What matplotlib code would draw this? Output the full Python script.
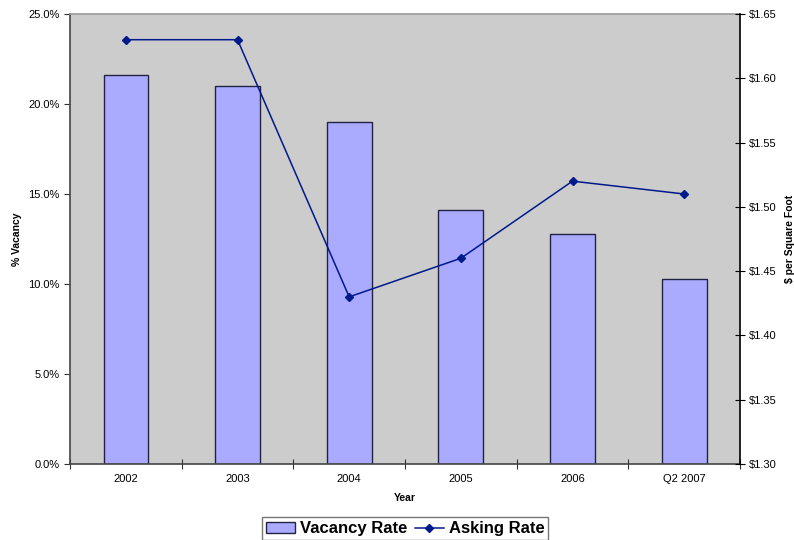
import matplotlib.pyplot as plt
import numpy as np
from matplotlib.ticker import FuncFormatter, FixedLocator

plt.rcParams['font.family'] = ['Liberation Sans', 'DejaVu Sans']

# vacancy (%) and asking rent ($/sq ft) by period
years = ['2002', '2003', '2004', '2005', '2006', 'Q2 2007']
vacancy = [21.6, 21.0, 19.0, 14.1, 12.8, 10.3]
asking = [1.63, 1.63, 1.43, 1.46, 1.52, 1.51]

fig = plt.figure(figsize=(7.94, 5.40), dpi=100)
ax = fig.add_axes([70/794, 76/540, 670/794, 450/540])
ax.set_facecolor('#cccccc')

x = np.arange(len(years))
bars = ax.bar(x, vacancy, width=0.4, color='#aaaaff', edgecolor='#222244', linewidth=1.0, zorder=2)
ax.set_xlim(-0.5, len(years) - 0.5)
ax.set_ylim(0, 25)
ax.set_yticks(np.arange(0, 25.1, 5))
ax.yaxis.set_major_formatter(FuncFormatter(lambda v, p: f'{v:.1f}%'))

# ticks on category boundaries, labels centred
ax.xaxis.set_major_locator(FixedLocator(np.arange(-0.5, len(years), 1)))
ax.xaxis.set_minor_locator(FixedLocator(x))
ax.xaxis.set_major_formatter(FuncFormatter(lambda v, p: ''))
ax.set_xticklabels(years, minor=True)
ax.tick_params(axis='x', which='minor', length=0, pad=7, labelsize=8)
ax.tick_params(axis='x', which='major', direction='inout', length=7, color='#333333')
ax.tick_params(axis='y', direction='out', length=4, labelsize=8, color='#333333')

ax.spines['top'].set_color('#999999')
ax.spines['right'].set_visible(False)
ax.spines['left'].set_color('#444444')
ax.spines['bottom'].set_color('#444444')
for s in ax.spines.values():
    s.set_linewidth(1.2)

ax2 = ax.twinx()
line, = ax2.plot(x, asking, color='#00198c', linewidth=1.1, marker='D', markersize=4, zorder=3)
ax2.set_ylim(1.30, 1.65)
ax2.set_yticks(np.arange(1.30, 1.651, 0.05))
ax2.yaxis.set_major_formatter(FuncFormatter(lambda v, p: f'${v:.2f}'))
ax2.tick_params(axis='y', direction='inout', length=7, labelsize=8, pad=3)
for side in ['top', 'left', 'bottom']:
    ax2.spines[side].set_visible(False)
ax2.spines['right'].set_color('black')
ax2.spines['right'].set_linewidth(1.2)

fig.text(17/794, 1 - 239/540, '% Vacancy', rotation=90, ha='center', va='center', fontsize=7.5, fontweight='bold')
fig.text(790/794, 1 - 239/540, '$ per Square Foot', rotation=90, ha='center', va='center', fontsize=7.5, fontweight='bold')
fig.text(405/794, 1 - 498/540, 'Year', ha='center', va='center', fontsize=7.5, fontweight='bold')

leg = fig.legend([bars, line], ['Vacancy Rate', 'Asking Rate'], loc='upper left',
                 bbox_to_anchor=(262/794, 1 - 517/540), ncol=2, frameon=True, fancybox=False,
                 prop={'weight': 'bold', 'size': 12}, handlelength=1.7, handleheight=0.6,
                 handletextpad=0.3, columnspacing=0.5, borderpad=0.25, borderaxespad=0)
leg.get_frame().set_edgecolor('#555555')
leg.get_frame().set_linewidth(1.0)

fig.savefig('out.png', dpi=100)
